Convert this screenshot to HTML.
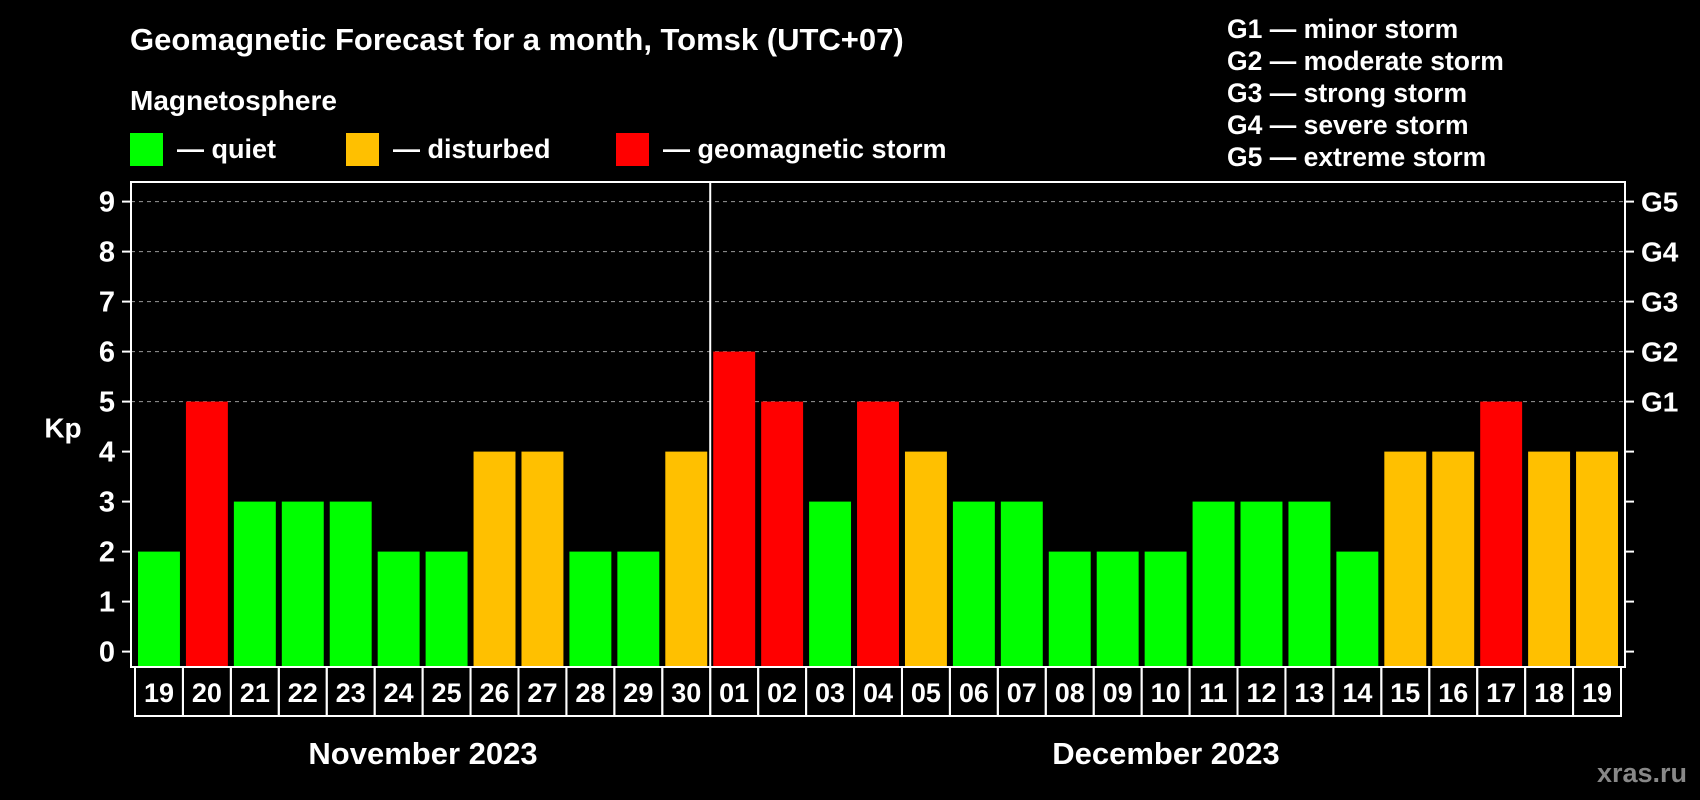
<!DOCTYPE html>
<html><head><meta charset="utf-8"><style>
body{margin:0;background:#000;width:1700px;height:800px;overflow:hidden}
svg{display:block;font-family:"Liberation Sans",sans-serif;font-weight:bold}
</style></head><body>
<svg id="c" width="1700" height="800">
<text x="130" y="50" fill="#fff" font-size="31">Geomagnetic Forecast for a month, Tomsk (UTC+07)</text>
<text x="130" y="110" fill="#fff" font-size="28">Magnetosphere</text>
<rect x="130" y="133" width="33" height="33" fill="#00ff00"/>
<text x="177" y="158" fill="#fff" font-size="27">— quiet</text>
<rect x="346" y="133" width="33" height="33" fill="#ffc000"/>
<text x="393" y="158" fill="#fff" font-size="27">— disturbed</text>
<rect x="616" y="133" width="33" height="33" fill="#ff0000"/>
<text x="663" y="158" fill="#fff" font-size="27">— geomagnetic storm</text>
<g fill="#fff" font-size="26.5">
<text x="1227" y="38">G1 — minor storm</text>
<text x="1227" y="70">G2 — moderate storm</text>
<text x="1227" y="102">G3 — strong storm</text>
<text x="1227" y="134">G4 — severe storm</text>
<text x="1227" y="166">G5 — extreme storm</text>
</g>
<text x="63" y="430" fill="#fff" font-size="28" text-anchor="middle" dominant-baseline="middle">Kp</text>
<text x="423" y="764" fill="#fff" font-size="31" text-anchor="middle">November 2023</text>
<text x="1166" y="764" fill="#fff" font-size="31" text-anchor="middle">December 2023</text>
<text x="1642" y="782" fill="#888" font-size="27" text-anchor="middle">xras.ru</text>
<g id="grid"></g><g id="bars"></g><g id="axes"></g>
</svg>
<script>
const days=["19","20","21","22","23","24","25","26","27","28","29","30","01","02","03","04","05","06","07","08","09","10","11","12","13","14","15","16","17","18","19"];
const kp=[2,5,3,3,3,2,2,4,4,2,2,4,6,5,3,5,4,3,3,2,2,2,3,3,3,2,4,4,5,4,4];
const yTicks=[0,1,2,3,4,5,6,7,8,9];
const gLabels=[["G1",5],["G2",6],["G3",7],["G4",8],["G5",9]];
const NS="http://www.w3.org/2000/svg";
const L=131,R=1625,T=182,B=667,x0=135,pitch=(R-4-x0)/days.length;
const y=v=>651.6-v*50;
const xs=i=>x0+i*pitch;
function mk(t,a,p){const e=document.createElementNS(NS,t);for(const k in a)e.setAttribute(k,a[k]);document.getElementById(p).appendChild(e);return e;}
yTicks.forEach(v=>{
 if(v>=5){const g=mk('line',{x1:L,x2:R,y1:y(v),y2:y(v),stroke:'#999','stroke-dasharray':'4,4','stroke-width':1},'grid');
 
 }
 const t=mk('line',{x1:122,x2:L,y1:y(v),y2:y(v),stroke:'#fff','stroke-width':2},'axes');
 
 
 const r=mk('line',{x1:R,x2:R+9,y1:y(v),y2:y(v),stroke:'#fff','stroke-width':2},'axes');
 
 
 const l=mk('text',{x:107,y:y(v)+10,fill:'#fff','font-size':29,'text-anchor':'middle'},'axes');l.textContent=v;
 
 
});
gLabels.forEach(([g,v])=>{const l=mk('text',{x:1641,y:y(v)+10,fill:'#fff','font-size':28},'axes');l.textContent=g;
 
 });
kp.forEach((v,i)=>{
 const c=v>=5?'#ff0000':v>=4?'#ffc000':'#00ff00';
 const b=mk('rect',{x:xs(i)+3,y:y(v),width:pitch-6,height:B-1-y(v),fill:c},'bars');
 
 
 const cell=mk('rect',{x:xs(i),y:B,width:pitch,height:49,fill:'none',stroke:'#fff','stroke-width':2},'axes');
 
 
 const t=mk('text',{x:xs(i)+pitch/2,y:B+35,fill:'#fff','font-size':27,'text-anchor':'middle'},'axes');t.textContent=days[i];
 
 
});
const f=mk('rect',{x:L,y:T,width:R-L,height:B-T,fill:'none',stroke:'#fff','stroke-width':2},'axes');


const d=mk('line',{x1:xs(12),x2:xs(12),y1:T,y2:B,stroke:'#fff','stroke-width':2},'axes');


</script>
</body></html>
